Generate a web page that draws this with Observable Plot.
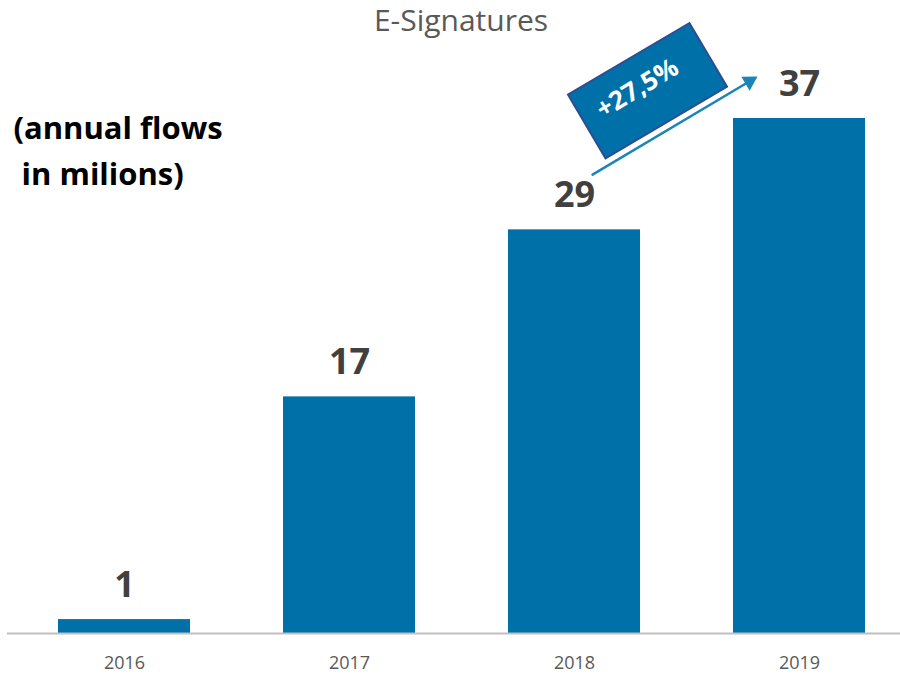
<!DOCTYPE html>
<html>
<head>
<meta charset="utf-8">
<script src="https://cdn.jsdelivr.net/npm/d3@7"></script>
<script src="https://cdn.jsdelivr.net/npm/@observablehq/plot@0.6"></script>
<style>
  body { margin: 0; background: #fff; }
  #title {
    width: 900px; height: 40px; line-height: 40px; box-sizing: border-box;
    padding-left: 22px; text-align: center;
    font-family: "Open Sans", sans-serif; font-size: 30px; color: #595959;
  }
  #chart svg { overflow: visible; display: block; }
</style>
</head>
<body>
<div id="title">E-Signatures</div>
<div id="chart"></div>
<script>
// ---- data ----
const years = ["2016", "2017", "2018", "2019"];
const flows = [1, 17, 29, 37];
const growthLabel = "+27,5%";
const unitLabel = "(annual flows\n\u00a0in milions)";
const arrowStart = { year: "2018", value: 32.2 };
const arrowEnd = { year: "2019", value: 41.8 };
const arrowHead = { year: "2019", value: 39.67 };
const badgeAnchor = { year: "2018", value: 39 };

const data = years.map((y, i) => ({ year: y, value: flows[i] }));

const barColor = "#0070a8";
const arrowColor = "#1a85b8";

const boxSymbol = {
  draw(ctx) { ctx.rect(-70.5, -37, 141, 74); }
};

const chart = Plot.plot({
  width: 900,
  height: 635,
  marginLeft: 7,
  marginRight: 0,
  marginTop: 65,
  marginBottom: 42,
  style: { fontFamily: "Open Sans", background: "white", overflow: "visible" },
  x: { domain: years, range: [12, 912], paddingInner: 0.413, paddingOuter: 0.2065 },
  y: { domain: [0, 37], range: [593, 78], axis: null },
  marks: [
    Plot.barY(data, { x: "year", y: "value", fill: barColor }),
    Plot.ruleY([0], { stroke: "#bfbfbf", strokeWidth: 2 }),
    Plot.axisX({ tickSize: 0, tickPadding: 23, fontSize: 18, color: "#595959", label: null }),
    Plot.text(data, {
      x: "year", y: "value", text: d => String(d.value),
      dy: -23, lineAnchor: "bottom", fontSize: 36, fontWeight: "bold", fill: "#404040"
    }),
    Plot.text([unitLabel], {
      frameAnchor: "top-left", text: d => d, dx: 6, lineAnchor: "top",
      lineHeight: 1.5, fontSize: 31, fontWeight: "bold", fill: "#000", textAnchor: "start"
    }),
    Plot.arrow([{ x1: arrowStart.year, y1: arrowStart.value, x2: arrowEnd.year, y2: arrowEnd.value }], {
      x1: "x1", y1: "y1", x2: "x2", y2: "y2",
      insetStart: 21, insetEnd: 56,
      stroke: arrowColor, strokeWidth: 2.5, headLength: 0
    }),
    Plot.dot([arrowHead], {
      x: "year", y: "value", dx: -50, symbol: "triangle", r: 6, rotate: 59.3,
      fill: arrowColor, stroke: "none"
    }),
    Plot.dot([badgeAnchor], {
      x: "year", y: "value", dx: 73, symbol: boxSymbol, r: 10, rotate: -30.5,
      fill: barColor, stroke: "#2e4d8f", strokeWidth: 2
    }),
    Plot.text([badgeAnchor], {
      x: "year", y: "value", dx: 63, dy: -2, text: () => growthLabel, rotate: -31,
      fontSize: 26, fontWeight: "bold", fill: "white"
    })
  ]
});
document.getElementById("chart").appendChild(chart);
</script>
</body>
</html>
